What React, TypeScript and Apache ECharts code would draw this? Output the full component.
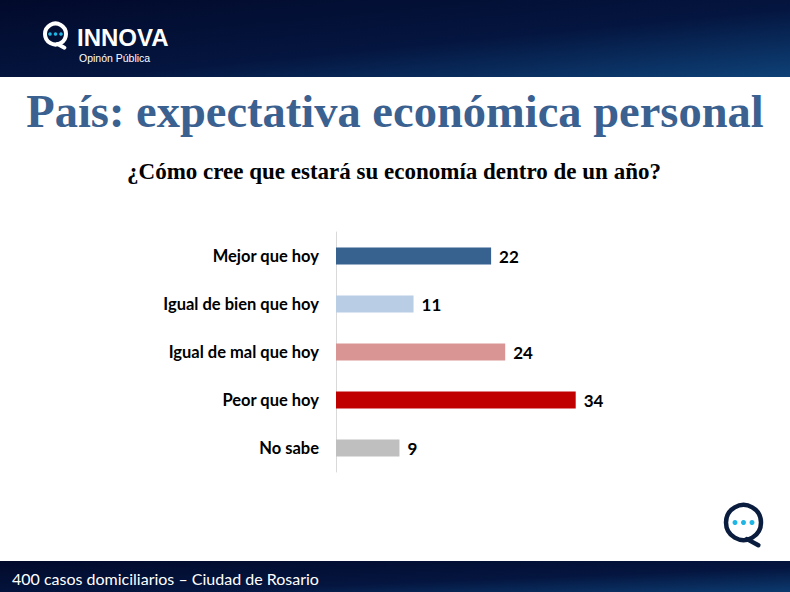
import React, { useEffect, useRef } from "react";
import * as echarts from "echarts";

const categories = ["Mejor que hoy", "Igual de bien que hoy", "Igual de mal que hoy", "Peor que hoy", "No sabe"];
const values = [22, 11, 24, 34, 9];
const barColors = ["#37618f", "#b9cde5", "#d99594", "#c00000", "#bfbfbf"];
const titleText = "País: expectativa económica personal";
const subtitleText = "¿Cómo cree que estará su economía dentro de un año?";
const footerText = "400 casos domiciliarios – Ciudad de Rosario";

function logo(cx: number, cy: number, r: number, lw: number, color: string, dotR: number, dotGap: number) {
  return {
    type: "group",
    children: [
      {
        type: "circle",
        shape: { cx, cy, r },
        style: { fill: "none", stroke: color, lineWidth: lw },
      },
      {
        type: "line",
        shape: { x1: cx + r * 0.2, y1: cy + r * 0.95, x2: cx + r * 0.85, y2: cy + r * 1.3 },
        style: { stroke: color, lineWidth: lw, lineCap: "round" },
      },
      ...[-1, 0, 1].map((k) => ({
        type: "circle",
        shape: { cx: cx + k * dotGap, cy, r: dotR },
        style: { fill: "#1fb6e6" },
      })),
    ],
  };
}

export default function App() {
  const ref = useRef<HTMLDivElement>(null);
  useEffect(() => {
    document.body.style.margin = "0";
    const chart = echarts.init(ref.current!, undefined, { renderer: "svg" });
    const headerGrad = new echarts.graphic.LinearGradient(0, 0, 1, 1, [
      { offset: 0, color: "#020a2b" },
      { offset: 0.55, color: "#04153f" },
      { offset: 1, color: "#0e4177" },
    ]);
    const footerGrad = new echarts.graphic.LinearGradient(0, 0, 1, 1, [
      { offset: 0, color: "#020a2b" },
      { offset: 0.6, color: "#04153f" },
      { offset: 1, color: "#0c3a6e" },
    ]);
    chart.setOption({
      animation: false,
      backgroundColor: "#ffffff",
      grid: { left: 336, top: 232, width: 282, height: 240 },
      xAxis: {
        type: "value",
        min: 0,
        max: 40,
        show: false,
      },
      yAxis: {
        type: "category",
        data: categories,
        inverse: true,
        axisLine: { show: true, lineStyle: { color: "#d9d9d9", width: 1 } },
        axisTick: { show: false },
        axisLabel: {
          margin: 17,
          color: "#000000",
          fontFamily: "Lato",
          fontWeight: "bold",
          fontSize: 16.5,
        },
      },
      series: [
        {
          type: "bar",
          data: values.map((v, i) => ({ value: v, itemStyle: { color: barColors[i] } })),
          barWidth: 17,
          label: {
            show: true,
            position: "right",
            distance: 8,
            color: "#000000",
            fontFamily: "Lato",
            fontWeight: "bold",
            fontSize: 17,
          },
        },
      ],
      graphic: [
        { type: "rect", shape: { x: 0, y: 0, width: 790, height: 77 }, style: { fill: headerGrad } },
        { type: "rect", shape: { x: 0, y: 561, width: 790, height: 31 }, style: { fill: footerGrad } },
        logo(55.5, 34, 10.5, 4, "#ffffff", 1.8, 5.5),
        {
          type: "text",
          x: 77,
          y: 37,
          style: {
            text: "INNOVA",
            fill: "#ffffff",
            font: "bold 24px 'Liberation Sans'",
            verticalAlign: "middle",
          },
        },
        {
          type: "text",
          x: 79,
          y: 57.5,
          style: {
            text: "Opinón Pública",
            fill: "#ffffff",
            font: "10.5px 'Liberation Sans'",
            verticalAlign: "middle",
          },
        },
        {
          type: "text",
          x: 395,
          y: 111,
          style: {
            text: titleText,
            fill: "#3a6190",
            font: "bold 46.5px 'Liberation Serif'",
            align: "center",
            verticalAlign: "middle",
          },
        },
        {
          type: "text",
          x: 394,
          y: 171,
          style: {
            text: subtitleText,
            fill: "#000000",
            font: "bold 23px 'Liberation Serif'",
            align: "center",
            verticalAlign: "middle",
          },
        },
        {
          type: "text",
          x: 12,
          y: 578,
          style: {
            text: footerText,
            fill: "#ffffff",
            font: "16px Lato",
            verticalAlign: "middle",
          },
        },
        logo(743.5, 522.5, 17.5, 4.5, "#0a1d3e", 2.5, 8.5),
      ],
    });
    return () => chart.dispose();
  }, []);
  return <div ref={ref} style={{ width: 790, height: 592 }} />;
}
